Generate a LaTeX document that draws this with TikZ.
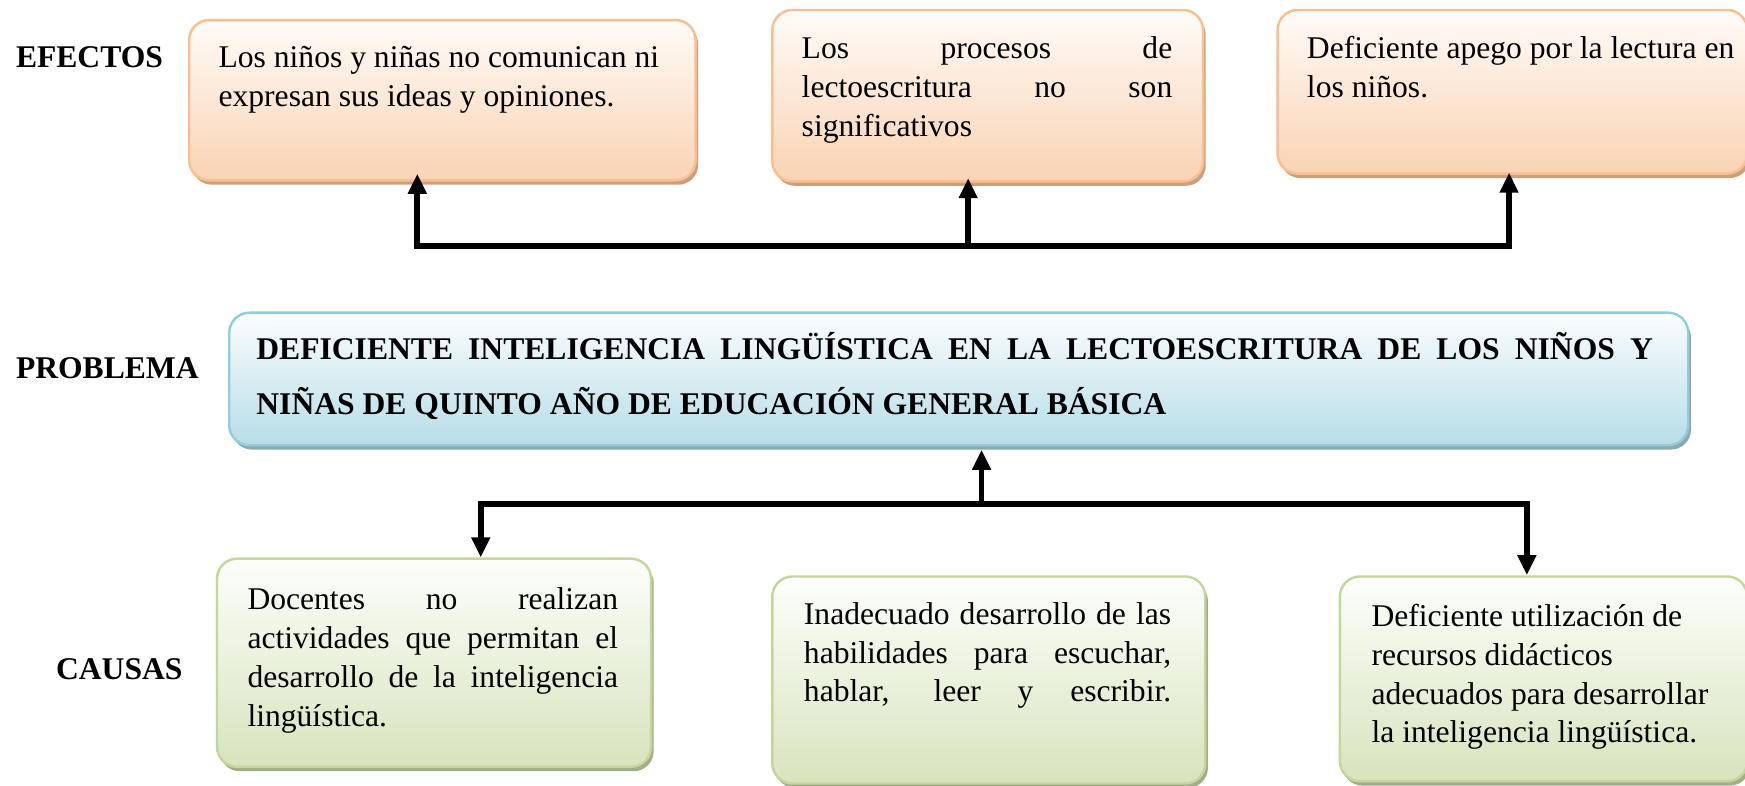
\documentclass[tikz,border=0pt]{standalone}
\usepackage{fontspec}
\setmainfont{Liberation Serif}
\usetikzlibrary{arrows.meta,shadows}
\definecolor{etop}{HTML}{FFFBF8}
\definecolor{ebot}{HTML}{FAD3B3}
\definecolor{eborder}{HTML}{F9BF90}
\definecolor{eshadow}{HTML}{C9A07E}
\definecolor{ptop}{HTML}{FBFDFE}
\definecolor{pbot}{HTML}{B7DDE8}
\definecolor{pborder}{HTML}{93CDDD}
\definecolor{pshadow}{HTML}{8CA9B0}
\definecolor{ctop}{HTML}{FDFEFB}
\definecolor{cbot}{HTML}{D7E4BD}
\definecolor{cborder}{HTML}{C3D69B}
\definecolor{cshadow}{HTML}{A3AD8A}
\tikzset{
  basebox/.style={rectangle, rounded corners=9pt, line width=1.1pt, inner sep=0pt},
  ebox/.style={basebox, draw=eborder, top color=etop, bottom color=ebot,
    drop shadow={shadow xshift=1.2pt, shadow yshift=-2pt, fill=eshadow, opacity=1}},
  pbox/.style={basebox, draw=pborder, top color=ptop, bottom color=pbot,
    drop shadow={shadow xshift=1.2pt, shadow yshift=-2pt, fill=pshadow, opacity=1}},
  cbox/.style={basebox, draw=cborder, top color=ctop, bottom color=cbot,
    drop shadow={shadow xshift=1.2pt, shadow yshift=-2pt, fill=cshadow, opacity=1}},
  txt/.style={anchor=base west, inner sep=0pt, font=\fontsize{14.2}{17.4}\selectfont},
  ptxt/.style={anchor=base west, inner sep=0pt, font=\fontsize{14.2}{24.6}\selectfont\bfseries},
  lbl/.style={anchor=base west, inner sep=0pt, font=\fontsize{14.2}{17}\selectfont\bfseries},
  conn/.style={line width=2.6pt, line join=miter},
  tip/.tip={Triangle[length=9pt,width=8pt]},
}
\begin{document}
\begin{tikzpicture}[x=0.5pt,y=-0.5pt]
\useasboundingbox (0,0) rectangle (1568,706);
\clip (0,0) rectangle (1568,706);
% effect boxes
\node[ebox, minimum width=227.5pt, minimum height=72pt] (e1) at (397.5,90) {};
\node[ebox, minimum width=193.5pt, minimum height=77pt] (e2) at (887.5,86) {};
\node[ebox, minimum width=211pt, minimum height=73.5pt] (e3) at (1359,82.5) {};
% problem box
\node[pbox, minimum width=655.5pt, minimum height=59.5pt] (p) at (861.5,340.5) {};
% cause boxes
\node[cbox, minimum width=195pt, minimum height=93.5pt] (c1) at (390,595.5) {};
\node[cbox, minimum width=194.5pt, minimum height=93pt] (c2) at (888.5,611) {};
\node[cbox, minimum width=183pt, minimum height=92pt] (c3) at (1387,610) {};
% labels
\node[lbl] (lef) at (14,61) {EFECTOS};
\node[lbl] (lpr) at (14,340) {PROBLEMA};
\node[lbl] (lca) at (50,611) {CAUSAS};
% texts
\node[txt] (t1) at (196,61) {\begin{tabular}[t]{@{}l@{}}Los niños y niñas no comunican ni\\expresan sus ideas y opiniones.\end{tabular}};
\node[txt] (t2) at (720,53) {\begin{tabular}[t]{@{}l@{}}\makebox[166.5pt][s]{Los procesos de}\\\makebox[166.5pt][s]{lectoescritura no son}\\significativos\end{tabular}};
\node[txt] (t3) at (1174,53) {\begin{tabular}[t]{@{}l@{}}Deficiente apego por la lectura en\\los niños.\end{tabular}};
\node[ptxt] (tp) at (230,323) {\begin{tabular}[t]{@{}l@{}}\makebox[627.5pt][s]{DEFICIENTE INTELIGENCIA LINGÜÍSTICA EN LA LECTOESCRITURA DE LOS NIÑOS Y}\\NIÑAS DE QUINTO AÑO DE EDUCACIÓN GENERAL BÁSICA\end{tabular}};
\node[txt] (t4) at (222,548) {\begin{tabular}[t]{@{}l@{}}\makebox[166.5pt][s]{Docentes no realizan}\\\makebox[166.5pt][s]{actividades que permitan el}\\\makebox[166.5pt][s]{desarrollo de la inteligencia}\\lingüística.\end{tabular}};
\node[txt] (t5) at (722,561) {\begin{tabular}[t]{@{}l@{}}\makebox[165pt][s]{Inadecuado desarrollo de las}\\\makebox[165pt][s]{habilidades para escuchar,}\\\makebox[165pt][s]{hablar, leer y escribir.}\end{tabular}};
\node[txt] (t6) at (1232,563) {\begin{tabular}[t]{@{}l@{}}Deficiente utilización de\\recursos didácticos\\adecuados para desarrollar\\la inteligencia lingüística.\end{tabular}};
% top connectors
\coordinate (ta) at (375,221);
\coordinate (tb) at (870,221);
\coordinate (tc) at (1356,221);
\draw[conn, tip-tip] ([yshift=3.5pt]ta |- e1.south) -- (ta) -- (tc) -- ([yshift=1pt]tc |- e3.south);
\draw[conn, -tip] (tb) -- ([yshift=2pt]tb |- e2.south);
% bottom connectors
\coordinate (ba) at (432,453);
\coordinate (bm) at (882,453);
\coordinate (bc) at (1372,453);
\draw[conn, tip-tip] (c1.north -| ba) -- (ba) -- (bc) -- (c3.north -| bc);
\draw[conn, -tip] (bm) -- ([yshift=-1.5pt]p.south -| bm);
\end{tikzpicture}
\end{document}
